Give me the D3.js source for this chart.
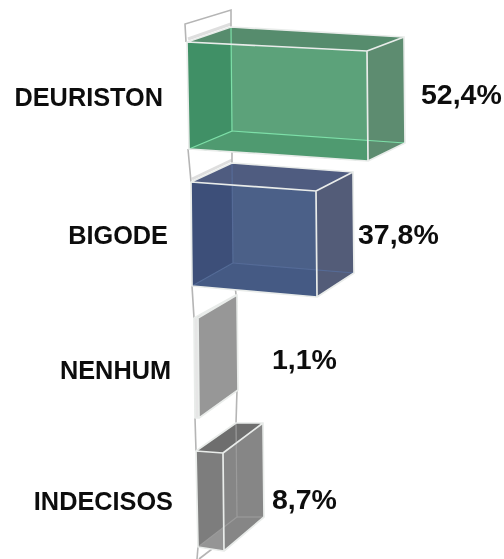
<!DOCTYPE html>
<html><head><meta charset="utf-8">
<script src="https://cdn.jsdelivr.net/npm/d3@7/dist/d3.min.js"></script>
<style>html,body{margin:0;padding:0;background:#fff}svg{display:block}text{font-family:"Liberation Sans",Arial,sans-serif;font-weight:700;fill:#111}</style>
</head><body><svg id="c" width="504" height="559"></svg>
<script>
const categories=["DEURISTON","BIGODE","NENHUM","INDECISOS"];
const values=[52.4,37.8,1.1,8.7];
const valueLabels=["52,4%","37,8%","1,1%","8,7%"];
const fronts=["#5ba27a","#4c6088","#979797","#8b8b8b"];
const lefts=["#419066","#3c5079","#8f8f8f","#7d7d7d"];
const sides=["#5d8c70","#535c78","#a2a2a2","#868686"];
const tops=["#568c6d","#505c80","#b4b4b4","#6e6e6e"];
const floors=["#4f9a70","#445a84","#999","#959595"];

// the picture is in perspective, so each row has its own projection
const w=d3.scaleLinear().domain([1.1,8.7,37.8,52.4]).range([4,27,125,180]);
const row=(r)=>d3.scaleOrdinal(categories,r);
const x0=row([187,191,194,196]), y0=row([42,182,318,451]), h=row([107,104,100,96]);
const bx=row([44,41,42,40]), by=row([15,19,23,28]), bh=row([104,100,95,94]);
const rdx=row([37,37,39,40]), rdy=row([14,19,23,30]), rfall=row([18,24,28,34]);
const topDrop=row([9,9,0,2]), botDrop=row([12,11,0,4]), botIn=row([2,1,1,2]);
const labelY=row([105.5,244,379,510]), labelX=row([163,168,171,173]);
const valX=row([421,358,272,272]), valY=row([103.5,243.5,369,509]);

const svg=d3.select("#c");
const f=svg.append("defs").append("filter").attr("id","b").attr("x","-5%").attr("y","-5%").attr("width","110%").attr("height","110%");
f.append("feGaussianBlur").attr("stdDeviation",0.55);
const g=svg.append("g").attr("filter","url(#b)");
const rows=categories.map((c,i)=>({c,v:values[i],l:valueLabels[i],i}));
const path=d3.line();

// connector frames between the bars, with their soft shadow
const shadow=g.append("g").attr("fill","none").attr("stroke","#dedede").attr("stroke-width",3);
rows.slice(0,2).forEach(d=>{
  shadow.append("path").attr("d",path([[x0(d.c)+1,y0(d.c)-3],[x0(d.c)+bx(d.c),y0(d.c)-by(d.c)-3]]));
});
const frame=g.append("g").attr("fill","none").attr("stroke","#b5b5b5").attr("stroke-width",1.6);
frame.append("path").attr("d",path([[x0(categories[0])-1,y0(categories[0])],[185,24],[231,10],[231,27]]));
rows.slice(0,-1).forEach(d=>{
  const n=categories[d.i+1];
  frame.append("path").attr("d",path([[x0(d.c)+1,y0(d.c)+h(d.c)],[x0(n),y0(n)]]));
  frame.append("path").attr("d",path([[x0(d.c)+bx(d.c)+1,y0(d.c)-by(d.c)+bh(d.c)],[x0(n)+bx(n),y0(n)-by(n)]]));
});
const lc=categories[3];
frame.append("path").attr("d",path([[x0(lc)+2,y0(lc)+h(lc)],[x0(lc)+1,559]]));
frame.append("path").attr("d",path([[x0(lc)+16,y0(lc)+h(lc)+2],[x0(lc)+3,559]]));

g.selectAll("g.bar").data(rows).join("g").attr("class","bar").each(function(d){
  const s=d3.select(this),c=d.c,W=w(d.v);
  const TL=[x0(c),y0(c)],TR=[x0(c)+W,y0(c)+topDrop(c)],
        BL=[x0(c)+botIn(c),y0(c)+h(c)],BR=[x0(c)+W+1,y0(c)+h(c)+botDrop(c)];
  const bTL=[x0(c)+bx(c),y0(c)-by(c)],bBL=[x0(c)+bx(c)+1,y0(c)-by(c)+bh(c)];
  const bTR=[TR[0]+rdx(c),TR[1]-rdy(c)],bBR=[BR[0]+rdx(c),BR[1]-rfall(c)];
  const poly=(pts,fill)=>s.append("path").attr("d",path(pts)+"Z").attr("fill",fill);
  const k=Math.min(1,bx(c)/W), wallX=x0(c)+Math.min(bx(c),W);
  if(d.i!==2){
    poly([TL,TR,BR,BL],fronts[d.i]);
    poly([TL,[wallX,TL[1]+(TR[1]-TL[1])*k],[wallX+1,BL[1]+(BR[1]-BL[1])*k],BL],lefts[d.i]);
    poly([BL,bBL,bBR,BR],floors[d.i]);
  }
  poly([TL,bTL,bTR,TR],tops[d.i]);
  poly([TR,bTR,bBR,BR],d.i===2?fronts[d.i]:sides[d.i]);
  if(d.i===2) poly([TL,TR,BR,BL],"#e6e6e6");
  const inner=d3.color(fronts[d.i]).brighter(d.i?0.3:0.9).formatHex();
  if(d.i!==2){
    s.append("path").attr("d",path([bTL,bBL,BL])).attr("fill","none").attr("stroke",inner).attr("stroke-width",1.2);
    s.append("path").attr("d",path([bBL,bBR])).attr("fill","none").attr("stroke",inner).attr("stroke-width",1.2);
  }
  s.append("path").attr("d",path([TL,TR,BR,BL])+"Z"+path([TR,bTR,bBR,BR])+path([TL,bTL,bTR])).attr("fill","none").attr("stroke","#e9ecea").attr("stroke-width",1.7).attr("stroke-linejoin","round");
});

const t=svg.append("g").attr("filter","url(#b)");
t.selectAll("text.cat").data(rows).join("text").attr("class","cat")
 .attr("text-anchor","end").attr("font-size",25.3)
 .attr("x",d=>labelX(d.c)).attr("y",d=>labelY(d.c)).text(d=>d.c);
t.selectAll("text.val").data(rows).join("text").attr("class","val")
 .attr("font-size",28.5).attr("x",d=>valX(d.c)).attr("y",d=>valY(d.c)).text(d=>d.l);
</script></body></html>
